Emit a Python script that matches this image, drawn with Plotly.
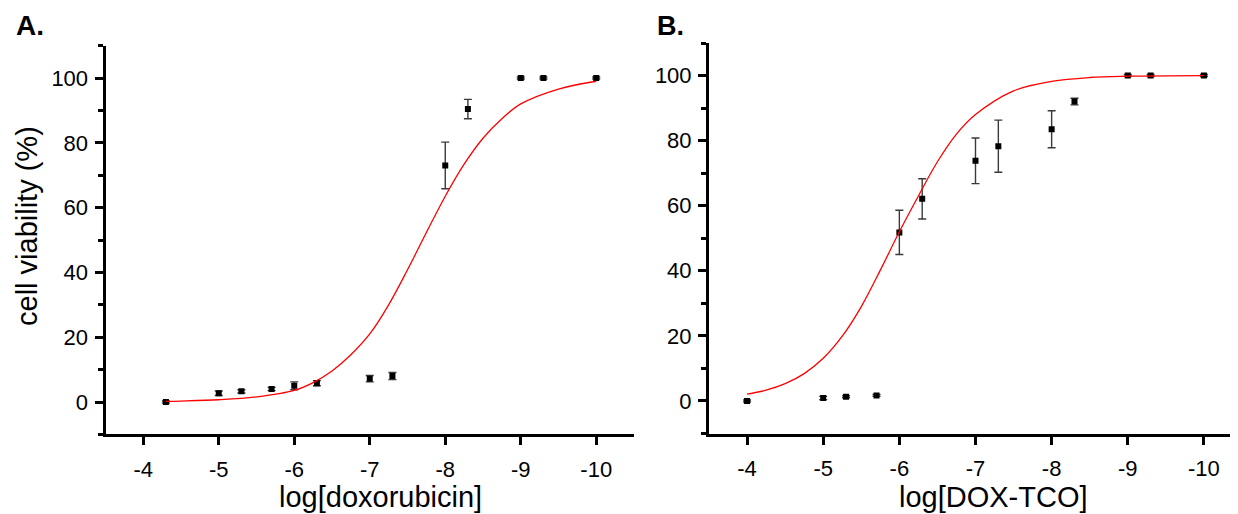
import plotly.graph_objects as go

# ---------------- data ----------------
# Panel A: doxorubicin
a_x = [-4.3, -5, -5.3, -5.7, -6, -6.3, -7, -7.3, -8, -8.3, -9, -9.3, -10]
a_y = [0.0, 2.7, 3.3, 4.0, 5.0, 5.8, 7.2, 8.0, 73.0, 90.4, 100, 100, 100]
a_err = [0.3, 0.7, 0.5, 0.5, 1.2, 0.8, 1.0, 1.1, 7.2, 3.0, 0.3, 0.3, 0.3]
a_fit_x = [-4.3, -4.5, -5, -5.5, -6, -6.25, -6.5, -6.75, -7, -7.25, -7.5,
           -7.75, -8, -8.25, -8.5, -8.75, -9, -9.5, -10]
a_fit_y = [0.2, 0.3, 0.7, 1.6, 3.6, 6.0, 9.6, 14.6, 21.0, 30.0, 40.8,
           52.3, 63.5, 73.4, 81.4, 87.4, 92.0, 96.6, 99.0]

# Panel B: DOX-TCO
b_x = [-4, -5, -5.3, -5.7, -6, -6.3, -7, -7.3, -8, -8.3, -9, -9.3, -10]
b_y = [0.0, 0.9, 1.3, 1.7, 51.8, 62.1, 73.8, 78.3, 83.5, 92.0, 100, 100, 100]
b_err = [0.3, 0.5, 0.3, 0.3, 6.8, 6.2, 7.0, 8.0, 5.7, 1.0, 0.3, 0.3, 0.3]
b_fit_x = [-4, -4.25, -4.5, -4.75, -5, -5.25, -5.5, -5.75, -6, -6.25, -6.5,
           -6.75, -7, -7.5, -8, -8.5, -9, -10]
b_fit_y = [2.1, 3.3, 5.3, 8.4, 13.1, 19.9, 29.0, 40.2, 52.0, 63.0, 73.5,
           82.0, 88.0, 95.3, 98.2, 99.4, 99.8, 100.0]

x_ticks = [-4, -5, -6, -7, -8, -9, -10]
x_tick_labels = ["-4", "-5", "-6", "-7", "-8", "-9", "-10"]
y_ticks = [0, 20, 40, 60, 80, 100]
y_tick_labels = ["0", "20", "40", "60", "80", "100"]

title_a = "log[doxorubicin]"
title_b = "log[DOX-TCO]"
y_title = "cell viability (%)"

# ---------------- figure ----------------
W, H = 1238, 514
OFF = 8  # page body margin shifts the figure by 8 px right and down
FONT = "Liberation Sans, Arial, Helvetica, sans-serif"

fig = go.Figure()

def add_panel(xs, ys, errs, fx, fy, xa, ya):
    fig.add_trace(go.Scatter(
        x=xs, y=ys, mode="markers", xaxis=xa, yaxis=ya,
        marker=dict(symbol="square", size=6, color="black"),
        error_y=dict(type="data", array=errs, visible=True,
                     color="#3a3a3a", thickness=1.4, width=4),
        showlegend=False, hoverinfo="x+y"))
    fig.add_trace(go.Scatter(
        x=fx, y=fy, mode="lines", xaxis=xa, yaxis=ya,
        line=dict(color="#ff0000", width=1.3, shape="spline", smoothing=1.0),
        showlegend=False, hoverinfo="skip"))

add_panel(a_x, a_y, a_err, a_fit_x, a_fit_y, "x", "y")
add_panel(b_x, b_y, b_err, b_fit_x, b_fit_y, "x2", "y2")

def px(v):
    return (v - OFF) / W

def py(v):
    return (H - (v - OFF)) / H

xcommon = dict(
    tickmode="array", tickvals=x_ticks, ticktext=x_tick_labels,
    showline=True, linecolor="black", linewidth=3,
    ticks="outside", ticklen=8, tickwidth=3, tickcolor="black",
    showgrid=False, zeroline=False,
    tickfont=dict(family=FONT, size=22, color="black"),
    ticklabelstandoff=5,
)
ycommon = dict(
    range=[-10, 110],
    tickmode="array", tickvals=y_ticks, ticktext=y_tick_labels,
    showline=True, linecolor="black", linewidth=3,
    ticks="outside", ticklen=8, tickwidth=3, tickcolor="black",
    showgrid=False, zeroline=False,
    tickfont=dict(family=FONT, size=22, color="black"),
    minor=dict(tickmode="array", tickvals=[-10, 10, 30, 50, 70, 90, 110],
               ticks="outside", ticklen=5, tickwidth=3, tickcolor="black",
               showgrid=False),
    ticklabelstandoff=2,
)

fig.update_layout(
    width=W, height=H,
    margin=dict(l=0, r=0, t=0, b=0),
    paper_bgcolor="white", plot_bgcolor="white",
    font=dict(family=FONT, color="black"),
    xaxis=dict(domain=[px(105.5), px(634)], range=[-3.5, -10.5],
               anchor="y", **xcommon),
    yaxis=dict(domain=[py(434.4), py(45.6)], anchor="x", **ycommon),
    xaxis2=dict(domain=[px(709), px(1242)], range=[-3.5, -10.5],
                anchor="y2", **xcommon),
    yaxis2=dict(domain=[py(433.5), py(43)], anchor="x2", **ycommon),
)

annots = [
    dict(text="<b>A.</b>", x=px(14), y=py(8), xanchor="left", yanchor="top",
         font=dict(family=FONT, size=28)),
    dict(text="<b>B.</b>", x=px(655), y=py(9), xanchor="left", yanchor="top",
         font=dict(family=FONT, size=27)),
    dict(text=title_a, x=px(381), y=py(479), xanchor="center", yanchor="top",
         font=dict(family=FONT, size=29)),
    dict(text=title_b, x=px(993), y=py(479), xanchor="center", yanchor="top",
         font=dict(family=FONT, size=29)),
    dict(text=y_title, x=px(27), y=py(226), xanchor="center", yanchor="middle",
         textangle=-90, font=dict(family=FONT, size=29)),
]
for a in annots:
    a.update(xref="paper", yref="paper", showarrow=False)
    fig.add_annotation(**a)

fig.write_html("out.html")
